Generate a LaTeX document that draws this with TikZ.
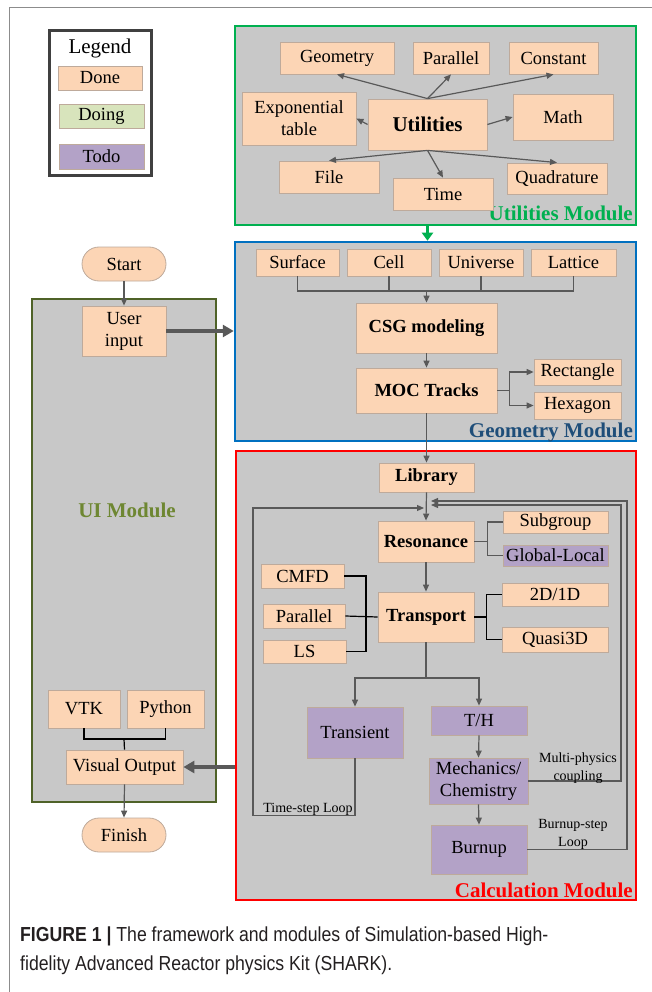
\documentclass[tikz,border=0pt]{standalone}
\usepackage{fontspec}
\setmainfont{Liberation Serif}
\newfontfamily\capfont[FakeStretch=0.87]{Liberation Sans}
\usetikzlibrary{arrows.meta}

\definecolor{donefill}{RGB}{252,213,181}
\definecolor{doingfill}{RGB}{216,228,188}
\definecolor{todofill}{RGB}{179,162,199}
\definecolor{boxline}{RGB}{190,170,155}
\definecolor{modfill}{RGB}{200,200,200}
\definecolor{umgreen}{RGB}{0,176,80}
\definecolor{gmblue}{RGB}{0,112,192}
\definecolor{gmtext}{RGB}{31,78,121}
\definecolor{cmred}{RGB}{255,0,0}
\definecolor{uiolive}{RGB}{79,98,40}
\definecolor{uitext}{RGB}{110,135,50}
\definecolor{linegray}{RGB}{89,89,89}
\definecolor{legline}{RGB}{64,64,64}
\definecolor{pagegray}{RGB}{140,140,140}
\definecolor{captext}{RGB}{35,31,32}

\begin{document}
\begin{tikzpicture}[x=1pt, y=-1pt, font=\fontsize{18.5}{22}\selectfont,
	box/.style={draw=boxline, line width=0.8, inner sep=0, align=center},
	done/.style={box, fill=donefill},
	doing/.style={box, fill=doingfill},
	todo/.style={box, fill=todofill},
	bold/.style={font=\fontsize{18.5}{22}\selectfont\bfseries},
	module/.style={fill=modfill, line width=2.5, inner sep=0},
	modlabel/.style={anchor=base east, inner sep=0, font=\fontsize{21}{24}\selectfont\bfseries},
	small/.style={font=\fontsize{14}{18}\selectfont, align=center, inner sep=0},
	conn/.style={draw=linegray, line width=1.2},
	blk/.style={draw=black, line width=1.2},
	arr/.style={conn, -{Triangle[length=7pt,width=6pt]}},
	bigarr/.style={draw=linegray, line width=4, -{Triangle[length=11pt,width=12pt]}},
	capstyle/.style={anchor=base west, inner sep=0, text=captext, font=\capfont\fontsize{20.3}{22}\selectfont}]
	\useasboundingbox (0,0) rectangle (652,992);
	\draw[pagegray, line width=1] (652,8) -- (9,8) -- (9,992);

	\node[draw=legline, line width=3, minimum width=102, minimum height=145, inner sep=0] (legend) at (100,103.5) {};
	\node[font=\fontsize{21}{24}\selectfont] (legtitle) at (100,48) {Legend};
	\node[done, minimum width=84, minimum height=24] (legdone) at (100,78) {Done};
	\node[doing, minimum width=85, minimum height=24] (legdoing) at (101.5,116) {Doing};
	\node[todo, minimum width=85, minimum height=25] (legtodo) at (101.5,156.5) {Todo};

	\node[module, draw=umgreen, minimum width=401, minimum height=199] (utilmod) at (435.5,125.5) {};
	\node[modlabel, text=umgreen] (utillab) at (633,221) {Utilities Module};
	\node[done, minimum width=114, minimum height=32] (geo) at (337,58) {Geometry};
	\node[done, minimum width=76, minimum height=32] (par) at (451,58) {Parallel};
	\node[done, minimum width=89, minimum height=32] (con) at (553.5,58) {Constant};
	\node[done, minimum width=114, minimum height=53] (expo) at (299,118.5) {Exponential\\table};
	\node[done, minimum width=119, minimum height=51, font=\fontsize{21}{24}\selectfont\bfseries] (util) at (427.5,124.5) {Utilities};
	\node[done, minimum width=100, minimum height=46] (math) at (563,117) {Math};
	\node[done, minimum width=100, minimum height=32] (file) at (329,177) {File};
	\node[done, minimum width=100, minimum height=32] (time) at (443,194) {Time};
	\node[done, minimum width=100, minimum height=31] (quad) at (557,178.5) {Quadrature};
	\draw[arr] (util.north) -- (geo.south);
	\draw[arr] (util.north) -- (par.south);
	\draw[arr] (util.north) -- (con.south);
	\draw[arr] (util.west) -- (expo.east);
	\draw[arr] (util.east) -- (math.west);
	\draw[arr] (util.south) -- (file.north);
	\draw[arr] (util.south) -- (time.north);
	\draw[arr] (util.south) -- (quad.north);

	\node[module, draw=gmblue, minimum width=401, minimum height=199] (geomod) at (435.5,341.5) {};
	\node[modlabel, text=gmtext] (geolab) at (633,437) {Geometry Module};
	\draw[umgreen, line width=3, -{Triangle[length=8pt,width=11pt]}] (util |- utilmod.south) -- (util |- geomod.north);
	\node[done, minimum width=83, minimum height=27] (surf) at (297.5,262.5) {Surface};
	\node[done, minimum width=84, minimum height=27] (cell) at (389,262.5) {Cell};
	\node[done, minimum width=84, minimum height=27] (univ) at (481,262.5) {Universe};
	\node[done, minimum width=85, minimum height=27] (latt) at (573.5,262.5) {Lattice};
	\node[done, bold, minimum width=141, minimum height=50] (csg) at (426.5,328) {CSG modeling};
	\node[done, bold, minimum width=141, minimum height=45] (moc) at (426.5,390.5) {MOC Tracks};
	\node[done, minimum width=87, minimum height=26] (rect) at (577.5,372) {Rectangle};
	\node[done, minimum width=87, minimum height=27] (hexa) at (577.5,405.5) {Hexagon};
	\coordinate (gjoin) at (426.5,291);
	\draw[conn] (surf.south) |- (gjoin);
	\draw[conn] (cell.south) |- (gjoin);
	\draw[conn] (univ.south) |- (gjoin);
	\draw[conn] (latt.south) |- (gjoin);
	\draw[arr] (gjoin) -- (csg.north);
	\draw[arr] (csg.south) -- (moc.north);
	\draw[arr] (moc.east) -- ++(12,0) |- (rect.west);
	\draw[arr] (moc.east) -- ++(12,0) |- (hexa.west);

	\node[module, draw=cmred, minimum width=400, minimum height=449] (calcmod) at (436,675.5) {};
	\node[modlabel, text=cmred] (calclab) at (633,897) {Calculation Module};
	\node[done, bold, minimum width=95, minimum height=29] (lib) at (426.5,477.5) {Library};
	\node[done, bold, minimum width=96, minimum height=41] (res) at (426,541.5) {Resonance};
	\node[done, minimum width=105, minimum height=22] (sub) at (555.5,522) {Subgroup};
	\node[todo, minimum width=105, minimum height=21] (glob) at (555.5,555.5) {Global-Local};
	\node[done, bold, minimum width=96, minimum height=50] (tra) at (426,617) {Transport};
	\node[done, minimum width=83, minimum height=24] (cmfd) at (302.5,576) {CMFD};
	\node[done, minimum width=82, minimum height=24] (cpar) at (304,616) {Parallel};
	\node[done, minimum width=83, minimum height=23] (ls) at (304.5,651.5) {LS};
	\node[done, minimum width=106, minimum height=23] (t2d) at (555,594.5) {2D/1D};
	\node[done, minimum width=106, minimum height=25] (q3d) at (555,639.5) {Quasi3D};
	\node[todo, minimum width=96, minimum height=51] (tran) at (355,732.5) {Transient};
	\node[todo, minimum width=96, minimum height=29] (th) at (479,720.5) {T/H};
	\node[todo, minimum width=99, minimum height=46] (mech) at (478.5,781) {Mechanics/\\Chemistry};
	\node[todo, minimum width=96, minimum height=49] (burn) at (479,849.5) {Burnup};
	\draw[arr] (moc.south) -- (lib.north);
	\draw[arr] (lib.south) -- (res.north);
	\draw[conn] (res.east) -- ++(13,0) |- (sub.west);
	\draw[conn] (res.east) -- ++(13,0) |- (glob.west);
	\draw[arr] (res.south) -- (tra.north);
	\draw[blk] (cmfd.east) -| (366,616) |- (ls.east);
	\draw[blk] (cpar.east) -- (tra.west);
	\draw[blk] (tra.east) -- ++(12,0) |- (t2d.west);
	\draw[blk] (tra.east) -- ++(12,0) |- (q3d.west);
	\coordinate (tsplit) at (426,678);
	\draw[conn] (tra.south) -- (tsplit);
	\draw[arr] (tsplit) -| (tran.north);
	\draw[arr] (tsplit) -| (th.north);
	\draw[arr] (th.south) -- (mech.north);
	\draw[arr] (mech.south) -- (burn.north);
	\coordinate (tsin) at (424,508);
	\coordinate (mpin) at (431,505);
	\coordinate (bsin) at (431,501);
	\draw[arr] (tran.south) -- ++(0,57) -| (253,508) -- (tsin);
	\draw[arr] (mech.east) -| (621,505) -- (mpin);
	\draw[arr] (burn.east) -| (627,501) -- (bsin);
	\node[small, anchor=base] (tslab) at (308,812) {Time-step Loop};
	\node[small] (mplab) at (578,768) {Multi-physics\\coupling};
	\node[small] (bslab) at (573,834.5) {Burnup-step\\Loop};

	\node[module, draw=uiolive, minimum width=184, minimum height=503] (uimod) at (124,550.5) {};
	\node[font=\fontsize{21}{24}\selectfont\bfseries, text=uitext] (uilab) at (127,510) {UI Module};
	\node[done, rounded corners=17, minimum width=84, minimum height=34] (start) at (124,264) {Start};
	\node[done, minimum width=84, minimum height=50] (user) at (124,331) {User\\input};
	\node[done, minimum width=72, minimum height=38] (vtk) at (84,709) {VTK};
	\node[done, minimum width=77, minimum height=38] (pyth) at (165.5,709) {Python};
	\node[done, minimum width=117, minimum height=34] (vis) at (124.5,767) {Visual Output};
	\node[done, rounded corners=17, minimum width=84, minimum height=34] (finish) at (124,835) {Finish};
	\coordinate (vjoin) at (124,739);
	\draw[arr] (start.south) -- (user.north);
	\draw[blk] (vtk.south) |- (vjoin);
	\draw[blk] (pyth.south) |- (vjoin);
	\draw[blk] (vjoin) -- (vis.north);
	\draw[arr] (vis.south) -- (finish.north);
	\draw[bigarr] (user.east) -- (user.east -| geomod.west);
	\draw[bigarr] (vis.east -| calcmod.west) -- (vis.east);

	\node[capstyle] (cap1) at (20,941) {\textbf{FIGURE 1 |} The framework and modules of Simulation-based High-};
	\node[capstyle] (cap2) at (20,970) {fidelity Advanced Reactor physics Kit (SHARK).};
\end{tikzpicture}
\end{document}
